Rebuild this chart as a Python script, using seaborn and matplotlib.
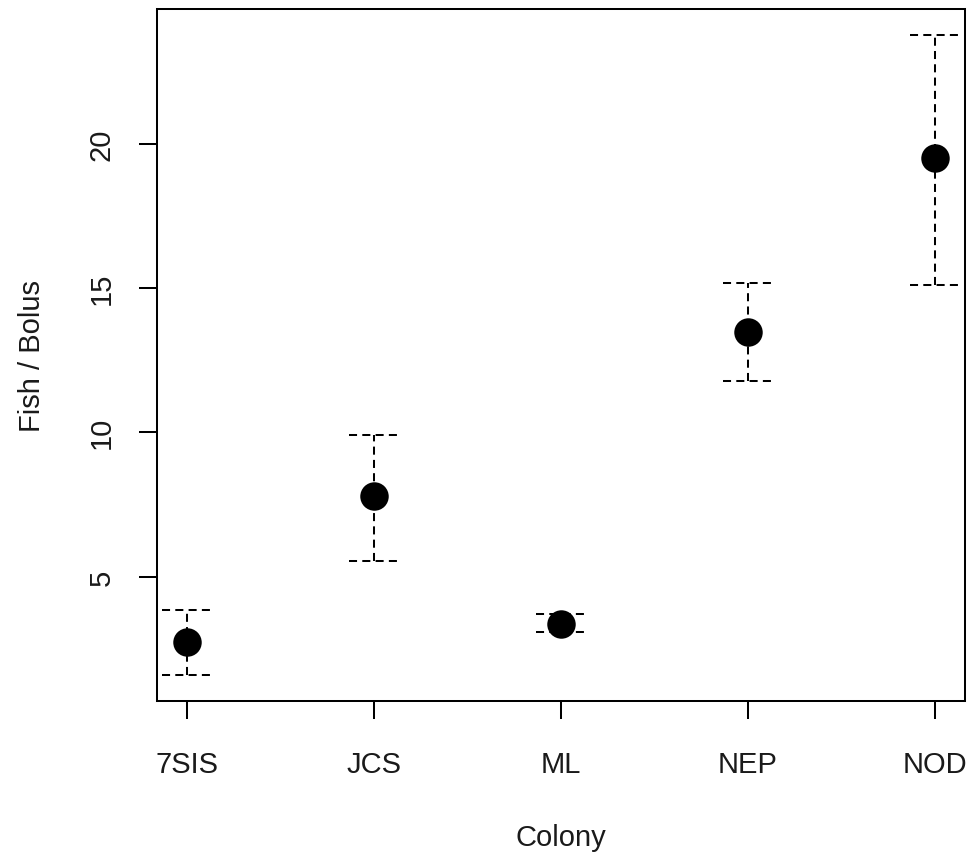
import matplotlib
matplotlib.use("Agg")
import matplotlib.pyplot as plt
import seaborn as sns
import pandas as pd

colonies = ["7SIS", "JCS", "ML", "NEP", "NOD"]
means = [2.75, 7.80, 3.34, 13.47, 19.49]
lower = [1.58, 5.55, 3.07, 11.78, 15.10]
upper = [3.83, 9.91, 3.69, 15.16, 23.77]

df = pd.DataFrame({"Colony": colonies, "Fish": means, "lo": lower, "hi": upper})

sns.set_theme(style="white")
plt.rcParams['font.family'] = ['Liberation Sans', 'DejaVu Sans']

W, H = 971, 862
fig = plt.figure(figsize=(W / 100, H / 100), dpi=100)
ax = fig.add_axes([157 / W, 1 - 702 / H, (965 - 157) / W, (702 - 10) / H])

dash = (0, (4, 2.6))
lw = 1.45
pos = list(range(len(colonies)))
ax.vlines(pos, df["lo"], df["hi"], colors="black", linestyles=[dash], linewidth=lw, zorder=1)
cap = 0.135
ax.hlines(df["hi"], [p - cap for p in pos], [p + cap for p in pos], colors="black",
          linestyles=[dash], linewidth=lw, zorder=1)
ax.hlines(df["lo"], [p - cap for p in pos], [p + cap for p in pos], colors="black",
          linestyles=[dash], linewidth=lw, zorder=1)

sns.scatterplot(data=df, x="Colony", y="Fish", ax=ax, s=420, color="black",
                edgecolor="black", linewidth=0, zorder=3, legend=False)

ax.set_xlim(-0.16, 4.16)
ax.set_ylim(0.69, 24.66)
ax.set_yticks([5, 10, 15, 20])
ax.set_xticks(pos)
ax.set_xticklabels(colonies)
ax.set_xlabel("")
ax.set_ylabel("")

for s in ax.spines.values():
    s.set_visible(True)
    s.set_color("black")
    s.set_linewidth(1.45)

ax.tick_params(axis="both", direction="out", length=13, width=1.45, color="black",
               labelsize=21, labelcolor="#1a1a1a", bottom=True, left=True)
ax.tick_params(axis="x", pad=22)
ax.tick_params(axis="y", pad=17)
for t in ax.get_yticklabels():
    t.set_rotation(90)
    t.set_va("center")

fig.text(561 / W, 1 - 838 / H, "Colony", ha="center", va="center", fontsize=21, color="#1a1a1a")
fig.text(32 / W, 1 - 356 / H, "Fish / Bolus", ha="center", va="center", rotation=90,
         fontsize=21, color="#1a1a1a")

fig.savefig("out.png", dpi=100, facecolor="white")
